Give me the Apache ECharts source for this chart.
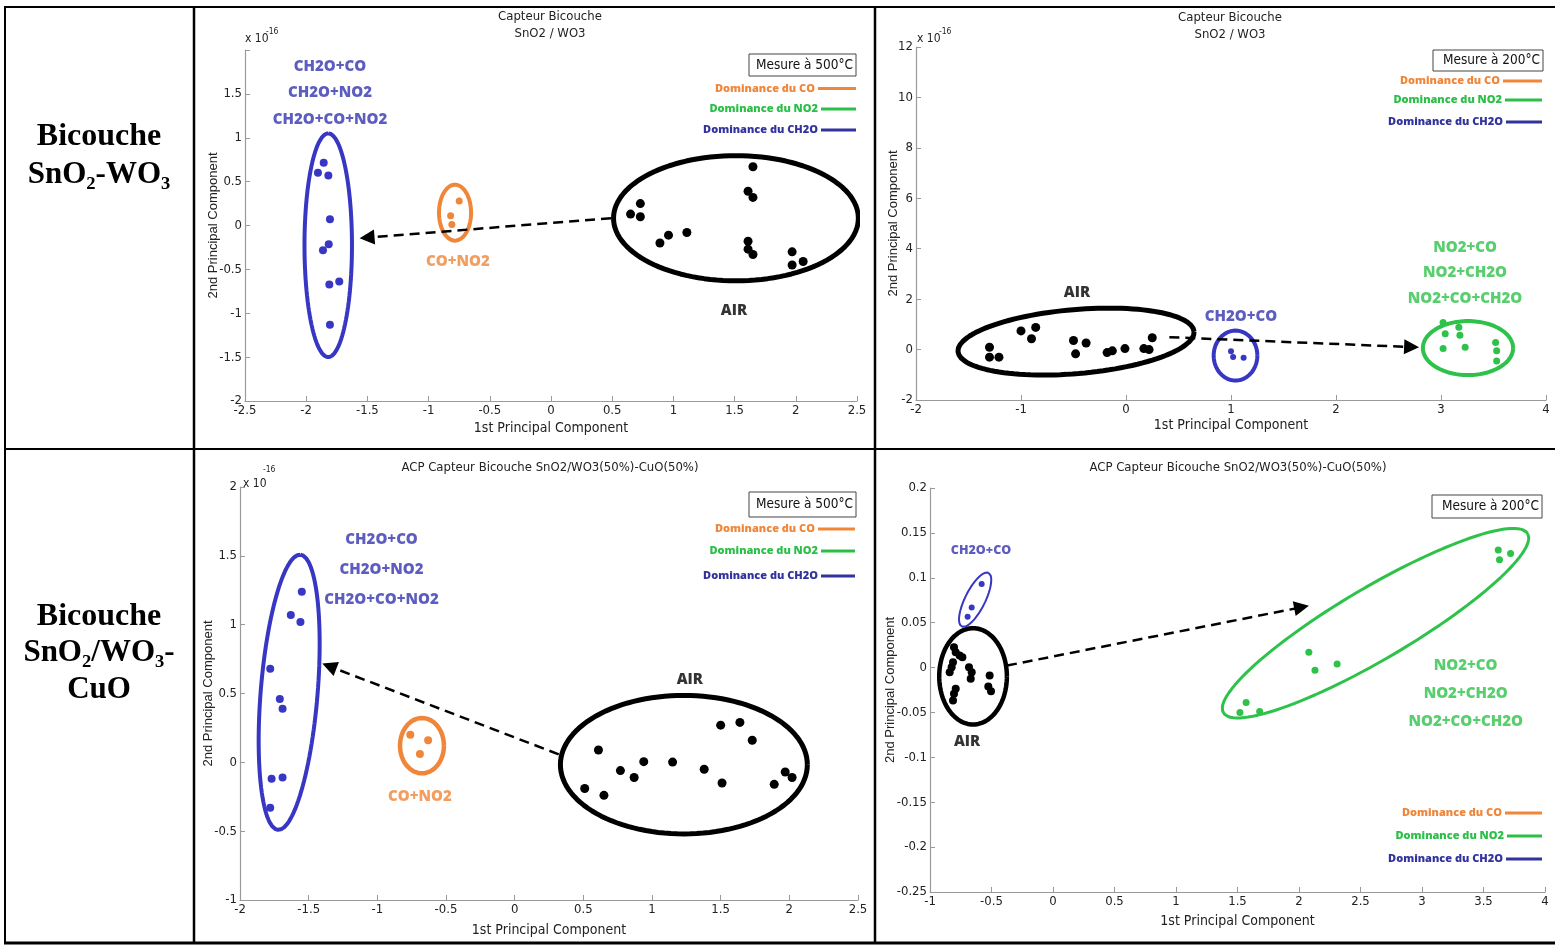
<!DOCTYPE html>
<html><head><meta charset="utf-8">
<script src="https://cdn.jsdelivr.net/npm/echarts@6/dist/echarts.min.js"></script>
<style>html,body{margin:0;padding:0;background:#fff}#c{width:1555px;height:945px}</style>
</head><body><div id="c"></div><script>
// ---------------- DATA ----------------
// Panel 1 : Bicouche SnO2-WO3, 500°C  (y in 1e-16)
const p1Air  = [[0.65,0.13],[0.73,0.25],[0.73,0.10],[0.89,-0.20],[0.96,-0.11],[1.11,-0.08],[1.65,0.67],[1.61,0.39],[1.65,0.32],[1.61,-0.18],[1.61,-0.27],[1.65,-0.33],[1.97,-0.30],[1.97,-0.45],[2.06,-0.41]];
const p1CH2O = [[-1.857,0.714],[-1.904,0.60],[-1.819,0.57],[-1.806,0.072],[-1.816,-0.213],[-1.863,-0.281],[-1.811,-0.673],[-1.73,-0.639],[-1.806,-1.132]];
const p1CO   = [[-0.75,0.28],[-0.82,0.11],[-0.81,0.01]];
// Panel 2 : Bicouche SnO2-WO3, 200°C
const p2Air  = [[-1.30,0.09],[-1.30,-0.30],[-1.21,-0.30],[-1.00,0.74],[-0.90,0.43],[-0.86,0.88],[-0.50,0.36],[-0.38,0.26],[-0.48,-0.17],[-0.18,-0.12],[-0.13,-0.05],[-0.01,0.04],[0.17,0.04],[0.22,0.0],[0.25,0.47]];
const p2CH2O = [[1.00,-0.07],[1.02,-0.29],[1.12,-0.32]];
const p2NO2  = [[3.02,1.07],[3.04,0.63],[3.02,0.04],[3.17,0.89],[3.18,0.57],[3.23,0.09],[3.52,0.28],[3.53,-0.05],[3.53,-0.45]];
// Panel 3 : Bicouche SnO2/WO3-CuO, 500°C
const p3Air  = [[0.61,0.09],[0.51,-0.19],[0.65,-0.24],[0.77,-0.06],[0.87,-0.11],[0.94,0.005],[1.15,0.002],[1.38,-0.05],[1.50,0.27],[1.64,0.29],[1.73,0.16],[1.51,-0.15],[1.89,-0.16],[1.97,-0.07],[2.02,-0.11]];
const p3CH2O = [[-1.55,1.24],[-1.63,1.07],[-1.56,1.02],[-1.78,0.68],[-1.71,0.46],[-1.69,0.39],[-1.77,-0.12],[-1.69,-0.11],[-1.78,-0.33]];
const p3CO   = [[-0.76,0.20],[-0.63,0.16],[-0.69,0.06]];
// Panel 4 : Bicouche SnO2/WO3-CuO, 200°C
const p4Air  = [[-0.805,0.0226],[-0.791,0.017],[-0.759,0.0133],[-0.737,0.0115],[-0.813,0.0059],[-0.824,0.0004],[-0.840,-0.0052],[-0.683,0.0004],[-0.661,-0.0052],[-0.669,-0.0126],[-0.515,-0.0089],[-0.526,-0.0211],[-0.504,-0.0263],[-0.791,-0.0237],[-0.805,-0.0293],[-0.813,-0.0367]];
const p4CH2O = [[-0.580,0.093],[-0.661,0.067],[-0.694,0.0567]];
const p4NO2  = [[3.62,0.131],[3.63,0.120],[3.72,0.127],[2.08,0.017],[2.13,-0.003],[2.31,0.004],[1.57,-0.039],[1.52,-0.050],[1.68,-0.049]];

// Group ellipses: [cx, cy, ax, ay, bx, by] (data units)
const p1EllAir  = [1.511,0.083,1.0,0,0,0.713];
const p1EllCH2O = [-1.82,-0.225,0,1.275,0.194,0];
const p1EllCO   = [-0.784,0.146,0.131,0,0,0.319];
const p2EllAir  = [-0.476,0.317,1.124,0.397,0.026,-1.266];
const p2EllCH2O = [1.043,-0.238,0.208,0,0,0.99];
const p2EllNO2  = [3.257,0.06,0.43,0,0,1.07];
const p3EllCH2O = [-1.642,0.509,0.0818,0.9993,0.2065,-0.0169];
const p3EllCO   = [-0.675,0.121,0.16,0,0,0.201];
const p3EllAir  = [1.232,-0.017,0.899,0,0,0.503];
const p4EllAir  = [-0.65,-0.0098,0.275,0,0,0.0537];
const p4EllCH2O = [-0.633,0.0756,0.109,0.0299,0.0728,-0.00496];
const p4EllNO2  = [2.622,0.0494,1.237,0.0998,0.149,-0.0344];

// Arrows: [start, end]
const p1Arrow = [[0.49,0.083],[-1.503,-0.138]];
const p2Arrow = [[0.413,0.49],[2.72,0.10]];
const p3Arrow = [[0.321,0.058],[-1.35,0.698]];
const p4Arrow = [[-0.374,0.0022],[2.021,0.0672]];

// Annotations: [x, y, text]
const p1Notes = [[-1.806,1.805,'CH2O+CO'],[-1.806,1.508,'CH2O+NO2'],[-1.806,1.211,'CH2O+CO+NO2']];
const p1NotesCO = [[-0.76,-0.418,'CO+NO2']];
const p1NotesAir = [[1.495,-0.966,'AIR']];
const p2NotesAir = [[-0.467,2.26,'AIR']];
const p2NotesCH2O = [[1.095,1.31,'CH2O+CO']];
const p2NotesNO2 = [[3.229,4.05,'NO2+CO'],[3.229,3.06,'NO2+CH2O'],[3.229,2.02,'NO2+CO+CH2O']];
const p3Notes = [[-0.969,1.62,'CH2O+CO'],[-0.969,1.40,'CH2O+NO2'],[-0.969,1.18,'CH2O+CO+NO2']];
const p3NotesCO = [[-0.69,-0.247,'CO+NO2']];
const p3NotesAir = [[1.275,0.603,'AIR']];
const p4NotesCH2O = [[-0.585,0.131,'CH2O+CO']];
const p4NotesAir = [[-0.699,-0.083,'AIR']];
const p4NotesNO2 = [[3.355,0.0022,'NO2+CO'],[3.355,-0.0293,'NO2+CH2O'],[3.355,-0.0608,'NO2+CO+CH2O']];

const titles = ['Capteur Bicouche\nSnO2 / WO3','Capteur Bicouche\nSnO2 / WO3','ACP Capteur Bicouche SnO2/WO3(50%)-CuO(50%)','ACP Capteur Bicouche SnO2/WO3(50%)-CuO(50%)'];
const mesures = ['Mesure à 500°C','Mesure à 200°C','Mesure à 500°C','Mesure à 200°C'];
const legendNames = ['Dominance du CO','Dominance du NO2','Dominance du CH2O'];
const rowHeaders = [['Bicouche','SnO₂-WO₃'],['Bicouche','SnO₂/WO₃-','CuO']];
const xName = '1st Principal Component';
const yName = '2nd Principal Component';

// ---------------- FONT PICKING ----------------
function pickFont(cands, fb){
  const c=document.createElement('canvas').getContext('2d');
  const s='abcdefghijklmnopqrstuvwxyz0123456789';
  c.font='20px monospace'; const w0=c.measureText(s).width;
  c.font='20px serif'; const w1=c.measureText(s).width;
  for(const f of cands){
    c.font='20px "'+f+'",monospace'; const a=c.measureText(s).width;
    c.font='20px "'+f+'",serif'; const b=c.measureText(s).width;
    if(a!==w0||b!==w1) return '"'+f+'"';
  }
  return fb;
}
const F_AX=pickFont(['Liberation Sans Narrow','Arial Narrow','DejaVu Sans Condensed','Roboto Condensed','Noto Sans Condensed','Liberation Sans'],'sans-serif');
const F_NAME=pickFont(['Liberation Sans','Arial'],'sans-serif');
const F_B=pickFont(['Open Sans','Lato','Noto Sans'],'sans-serif');
const F_SERIF=pickFont(['Liberation Serif','DejaVu Serif'],'serif');
const AX_NARROW = F_AX.indexOf('Narrow')>=0 || F_AX.indexOf('Condensed')>=0;
const AX_SIZE = AX_NARROW ? 13 : 11.5;

// ---------------- STYLE / LAYOUT ----------------
const BLUE='#3737c4', BLUE_T='#3535b0', ORANGE='#f0863a', GREEN='#2ec24a', BLACK='#000';
const LEG_COL=[ORANGE,'#2bbf47','#33339f'];

const panels=[
 {grid:{left:245,top:50,width:612,height:351}, x:[-2.5,2.5,0.5], y:[-2,2,0.5], hideYMax:true, xGap:20, yGap:25},
 {grid:{left:916,top:47,width:630,height:353}, x:[-2,4,1], y:[-2,12,2], xGap:18, yGap:16},
 {grid:{left:240,top:487,width:618,height:413}, x:[-2,2.5,0.5], y:[-1,2,0.5], xGap:23, yGap:25},
 {grid:{left:930,top:488,width:615,height:404}, x:[-1,4,0.5], y:[-0.25,0.2,0.05], xGap:22, yGap:33}
];
const fmt=v=>String(+(+v).toFixed(2));

function ell(e){const [cx,cy,ax,ay,bx,by]=e;const p=[];for(let i=0;i<=120;i++){const t=i/120*2*Math.PI;p.push([cx+ax*Math.cos(t)+bx*Math.sin(t),cy+ay*Math.cos(t)+by*Math.sin(t)]);}return p;}
function pts(g,name,data,color,size){return {type:'scatter',name,xAxisIndex:g,yAxisIndex:g,data,symbolSize:size,itemStyle:{color,opacity:1},z:6,silent:true,animation:false};}
function ellS(g,e,color,w){return {type:'line',xAxisIndex:g,yAxisIndex:g,data:ell(e),symbol:'none',showSymbol:false,lineStyle:{color,width:w,opacity:1},z:4,silent:true,animation:false};}
function arrowS(g,a){return {type:'line',xAxisIndex:g,yAxisIndex:g,data:[],silent:true,animation:false,
  markLine:{silent:true,animation:false,symbol:['none','triangle'],symbolSize:15,label:{show:false},
   lineStyle:{color:'#000',width:2.5,type:[10,6],opacity:1},itemStyle:{color:'#000'},emphasis:{disabled:true},
   data:[[{coord:a[0]},{coord:a[1]}]]}};}
function notes(g,items,color,size){return {type:'scatter',xAxisIndex:g,yAxisIndex:g,symbolSize:1,itemStyle:{color:'transparent'},silent:true,animation:false,z:7,
  data:items.map(it=>({value:[it[0],it[1]],name:it[2]})),
  label:{show:true,position:'inside',formatter:'{b}',color,fontSize:size,fontWeight:800,fontFamily:F_B}};}

const grid=[],xAxis=[],yAxis=[];
panels.forEach((p,i)=>{
  grid.push(Object.assign({containLabel:false},p.grid));
  xAxis.push({type:'value',gridIndex:i,min:p.x[0],max:p.x[1],interval:p.x[2],name:xName,nameLocation:'middle',nameGap:p.xGap,nameMoveOverlap:false,
    nameTextStyle:{fontFamily:F_AX,fontSize:AX_SIZE+1,color:'#222'},
    axisLine:{show:true,onZero:false,lineStyle:{color:'#9a9a9a',width:1.2}},
    axisTick:{show:true,inside:true,length:5,lineStyle:{color:'#9a9a9a'}},
    axisLabel:{fontFamily:F_AX,fontSize:AX_SIZE,color:'#222',margin:3,formatter:fmt},
    splitLine:{show:false}});
  yAxis.push({type:'value',gridIndex:i,min:p.y[0],max:p.y[1],interval:p.y[2],name:yName,nameLocation:'middle',nameGap:p.yGap,nameMoveOverlap:false,
    nameTextStyle:{fontFamily:F_NAME,fontSize:13,color:'#222'},
    axisLine:{show:true,onZero:false,lineStyle:{color:'#9a9a9a',width:1.2}},
    axisTick:{show:true,inside:true,length:5,lineStyle:{color:'#9a9a9a'}},
    axisLabel:{fontFamily:F_AX,fontSize:AX_SIZE,color:'#222',margin:3,formatter:v=>(p.hideYMax&&v===p.y[1])?'':fmt(v)},
    splitLine:{show:false}});
});

const LB=15;
const series=[
  ellS(0,p1EllAir,BLACK,5), ellS(0,p1EllCH2O,BLUE,4), ellS(0,p1EllCO,ORANGE,4),
  pts(0,'AIR',p1Air,BLACK,9), pts(0,'CH2O',p1CH2O,BLUE,8), pts(0,'CO+NO2',p1CO,ORANGE,7),
  arrowS(0,p1Arrow),
  notes(0,p1Notes,BLUE_T,LB), notes(0,p1NotesCO,ORANGE,LB), notes(0,p1NotesAir,'#000',LB),

  ellS(1,p2EllAir,BLACK,5), ellS(1,p2EllCH2O,BLUE,4), ellS(1,p2EllNO2,GREEN,4),
  pts(1,'AIR',p2Air,BLACK,9), pts(1,'CH2O+CO',p2CH2O,BLUE,6), pts(1,'NO2',p2NO2,GREEN,7),
  arrowS(1,p2Arrow),
  notes(1,p2NotesAir,'#000',LB), notes(1,p2NotesCH2O,BLUE_T,LB), notes(1,p2NotesNO2,GREEN,LB),

  ellS(2,p3EllAir,BLACK,5), ellS(2,p3EllCH2O,BLUE,4), ellS(2,p3EllCO,ORANGE,4.5),
  pts(2,'AIR',p3Air,BLACK,9), pts(2,'CH2O',p3CH2O,BLUE,8), pts(2,'CO+NO2',p3CO,ORANGE,8),
  arrowS(2,p3Arrow),
  notes(2,p3Notes,BLUE_T,LB), notes(2,p3NotesCO,ORANGE,LB), notes(2,p3NotesAir,'#000',LB),

  ellS(3,p4EllAir,BLACK,4.5), ellS(3,p4EllCH2O,BLUE,2), ellS(3,p4EllNO2,GREEN,3),
  pts(3,'AIR',p4Air,BLACK,8), pts(3,'CH2O+CO',p4CH2O,BLUE,6), pts(3,'NO2',p4NO2,GREEN,7),
  arrowS(3,p4Arrow),
  notes(3,p4NotesCH2O,BLUE_T,12.5), notes(3,p4NotesAir,'#000',LB), notes(3,p4NotesNO2,GREEN,LB)
];

// ---------------- GRAPHIC (table, headers, titles, legends) ----------------
const G=[];
function line(x1,y1,x2,y2,w){G.push({type:'line',shape:{x1,y1,x2,y2},style:{stroke:'#000',lineWidth:w},silent:true,z:100});}
function txt(x,y,text,o){G.push({type:'text',x,y,silent:true,z:101,style:Object.assign({text,fill:'#222',fontSize:AX_SIZE,fontFamily:F_AX,align:'center',verticalAlign:'middle'},o||{})});}
// table
line(4,7,1555,7,2); line(4,943,1555,943,3); line(5,6,5,944,2); line(194,6,194,944,2.5); line(875,6,875,944,2.5); line(5,449,1555,449,2);
// row headers
const HS={fontFamily:F_SERIF,fontWeight:'bold',fill:'#000'};
txt(99,137,rowHeaders[0][0],Object.assign({fontSize:32},HS));
txt(99,175,rowHeaders[0][1],Object.assign({fontSize:31},HS));
txt(99,617,rowHeaders[1][0],Object.assign({fontSize:32},HS));
txt(99,653,rowHeaders[1][1],Object.assign({fontSize:31},HS));
txt(99,690,rowHeaders[1][2],Object.assign({fontSize:31},HS));
// titles
const tpos=[[550,25],[1230,26],[550,468],[1238,468]];
titles.forEach((t,i)=>txt(tpos[i][0],tpos[i][1],t,{fontSize:AX_SIZE,lineHeight:17}));
// exponents
const epos=[[245,39,266,32],[917,39,939,32],[243,484,263,470]];
epos.forEach(e=>{txt(e[0],e[1],'x 10',{align:'left',fontSize:AX_SIZE-1});txt(e[2],e[3],'-16',{align:'left',fontSize:8.5});});
// legends
const legs=[
 {box:[749,54,856,76], ys:[88.5,109,130], lx:[818,821,821], lend:856},
 {box:[1433,50,1543,71], ys:[81,100,122], lx:[1503,1505,1506], lend:1542},
 {box:[749,492,856,517], ys:[529,551,576], lx:[818,821,821], lend:855},
 {box:[1432,495,1542,518], ys:[813,836,859], lx:[1505,1507,1506], lend:1542}
];
legs.forEach((L,i)=>{
  const b=L.box;
  G.push({type:'rect',shape:{x:b[0],y:b[1],width:b[2]-b[0],height:b[3]-b[1]},style:{fill:'#fff',stroke:'#444',lineWidth:1},silent:true,z:100});
  txt(b[2]-3,(b[1]+b[3])/2,mesures[i],{align:'right',fontSize:AX_SIZE+0.5,fill:'#111'});
  legendNames.forEach((n,k)=>{
    G.push({type:'line',shape:{x1:L.lx[k],y1:L.ys[k],x2:L.lend,y2:L.ys[k]},style:{stroke:LEG_COL[k],lineWidth:3},silent:true,z:100});
    txt(L.lx[k]-3,L.ys[k],n,{align:'right',fontFamily:F_B,fontWeight:800,fontSize:11,fill:LEG_COL[k]});
  });
});

const chart=echarts.init(document.getElementById('c'),null,{renderer:'canvas'});
chart.setOption({animation:false,backgroundColor:'#fff',grid,xAxis,yAxis,series,graphic:G});
</script></body></html>
